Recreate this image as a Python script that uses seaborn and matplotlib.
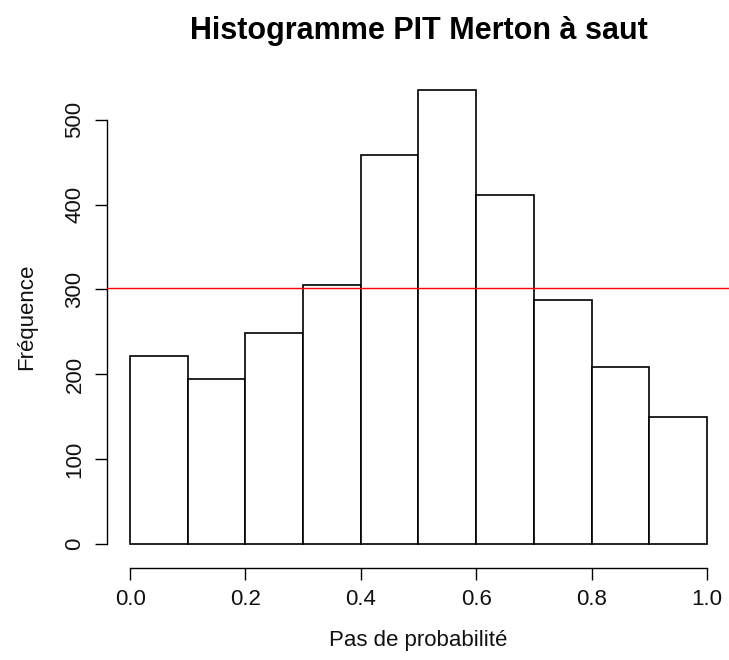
import matplotlib
matplotlib.use("Agg")
import matplotlib.pyplot as plt
import seaborn as sns
import numpy as np
import pandas as pd

# Data
bin_edges = [0.0, 0.1, 0.2, 0.3, 0.4, 0.5, 0.6, 0.7, 0.8, 0.9, 1.0]
bin_centers = [0.05, 0.15, 0.25, 0.35, 0.45, 0.55, 0.65, 0.75, 0.85, 0.95]
counts = [221, 194, 249, 305, 458, 535, 411, 288, 209, 150]
ref_line = 302
x_ticks = [0.0, 0.2, 0.4, 0.6, 0.8, 1.0]
x_ticklabels = ["0.0", "0.2", "0.4", "0.6", "0.8", "1.0"]
y_ticks = [0, 100, 200, 300, 400, 500]

sns.set_style("white")
plt.rcParams['font.family'] = ['Liberation Sans', 'DejaVu Sans']

df = pd.DataFrame({"x": bin_centers, "w": counts})

fig = plt.figure(figsize=(7.29, 6.60), dpi=100)
ax = fig.add_axes([107/729, 1 - 562/660, 623/729, 490/660])

sns.histplot(data=df, x="x", weights="w", bins=bin_edges, ax=ax,
             color="white", edgecolor="black", linewidth=1.2, alpha=1)

ax.axhline(ref_line, color="red", linewidth=1.0, zorder=5)

ax.set_xlim(-0.04, 1.04)
ax.set_ylim(-21.4, 556.4)

for s in ["top", "right"]:
    ax.spines[s].set_visible(False)
ax.spines["left"].set_bounds(0, 500)
ax.spines["bottom"].set_bounds(0, 1)
ax.spines["bottom"].set_position(("outward", 4))
for s in ["left", "bottom"]:
    ax.spines[s].set_color("black")
    ax.spines[s].set_linewidth(1.0)

ax.set_xticks(x_ticks)
ax.set_xticklabels(x_ticklabels)
ax.set_yticks(y_ticks)
ax.set_yticklabels([str(v) for v in y_ticks], rotation=90, va="center")
ax.tick_params(axis="both", direction="out", length=8.5, width=1.0,
               color="black", labelsize=16, pad=7, left=True, bottom=True,
               labelcolor="#111111")

ax.set_xlabel("Pas de probabilité", fontsize=16, labelpad=14, color="#111111")
ax.set_ylabel("Fréquence", fontsize=16, labelpad=20, color="#111111")
ax.set_title("Histogramme PIT Merton à saut", fontsize=22, fontweight="bold",
             pad=24, color="black")

fig.savefig("out.png", dpi=100)
